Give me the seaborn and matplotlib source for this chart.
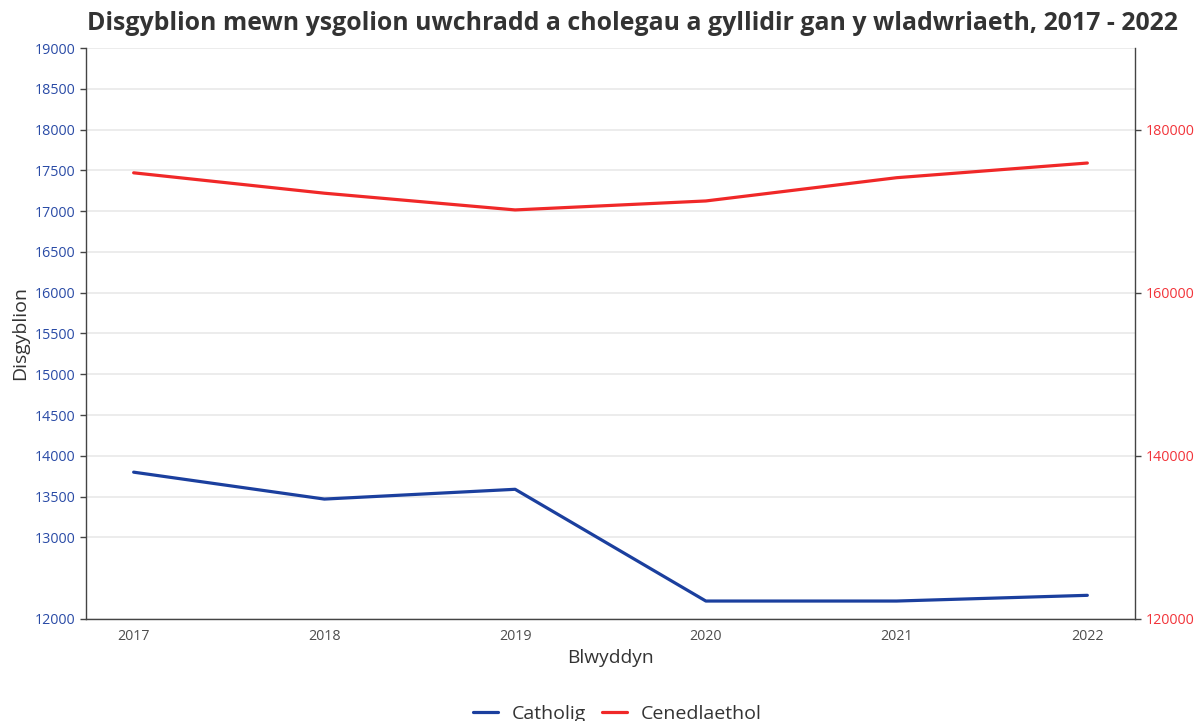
import matplotlib
matplotlib.use("Agg")
import matplotlib.pyplot as plt
import pandas as pd
import seaborn as sns

# Data
years = [2017, 2018, 2019, 2020, 2021, 2022]
catholig = [13800, 13470, 13590, 12220, 12220, 12290]
cenedlaethol = [174700, 172200, 170150, 171250, 174100, 175900]

left_ticks = [12000, 13000, 13500, 14000, 14500, 15000, 15500, 16000,
              16500, 17000, 17500, 18000, 18500, 19000]
right_ticks = [120000, 140000, 160000, 180000]

blue = "#1B3F9E"
red = "#F02828"
tick_blue = "#2A4BA6"
tick_red = "#F2343A"
text_dark = "#333333"

df = pd.DataFrame({"Blwyddyn": years, "Catholig": catholig,
                   "Cenedlaethol": cenedlaethol})

sns.set_style("white")
plt.rcParams['font.family'] = ['Open Sans', 'DejaVu Sans']

fig, ax = plt.subplots(figsize=(12.04, 7.21), dpi=100)
fig.subplots_adjust(left=0.0714, right=0.9427, top=0.9334, bottom=0.1415)

sns.lineplot(data=df, x="Blwyddyn", y="Catholig", ax=ax, color=blue,
             linewidth=2.3, label="Catholig", legend=False)
ax2 = ax.twinx()
sns.lineplot(data=df, x="Blwyddyn", y="Cenedlaethol", ax=ax2, color=red,
             linewidth=2.3, label="Cenedlaethol", legend=False)

ax.set_xlim(2016.75, 2022.25)
ax.set_ylim(12000, 19000)
ax2.set_ylim(120000, 190000)
ax.set_xticks(years)
ax.set_yticks(left_ticks)
ax2.set_yticks(right_ticks)

ax.yaxis.grid(True, color="#EBEBEB", linewidth=1.3)
ax.set_axisbelow(True)

for a in (ax, ax2):
    for s in a.spines.values():
        s.set_visible(False)
ax.spines["left"].set_visible(True)
ax.spines["bottom"].set_visible(True)
ax2.spines["right"].set_visible(True)
for s in (ax.spines["left"], ax.spines["bottom"], ax2.spines["right"]):
    s.set_color("#444444")
    s.set_linewidth(1.0)

ax.tick_params(axis="y", colors="#444444", labelcolor=tick_blue,
               labelsize=10.3, length=4, width=1)
ax.tick_params(axis="x", colors="#444444", labelcolor="#4D4D4D",
               labelsize=10.3, length=4, width=1)
ax2.tick_params(axis="y", colors="#444444", labelcolor=tick_red,
                labelsize=10.3, length=4, width=1)

ax.set_xlabel("Blwyddyn", fontsize=13.8, color=text_dark, labelpad=3)
ax.set_ylabel("Disgyblion", fontsize=14, color=text_dark, labelpad=4)
ax2.set_ylabel("")

fig.suptitle("Disgyblion mewn ysgolion uwchradd a cholegau a gyllidir gan y wladwriaeth, 2017 - 2022",
             fontsize=17.9, fontweight="bold", color=text_dark, x=0.525, y=0.968,
             va="center")

handles = ax.get_lines()[:1] + ax2.get_lines()[:1]
fig.legend(handles, ["Catholig", "Cenedlaethol"], loc="center",
           bbox_to_anchor=(0.5125, 0.01), ncol=2, frameon=False, fontsize=14,
           handlelength=1.3, handletextpad=0.7, columnspacing=0.8,
           labelcolor=text_dark)

fig.savefig("out.png", dpi=100)
